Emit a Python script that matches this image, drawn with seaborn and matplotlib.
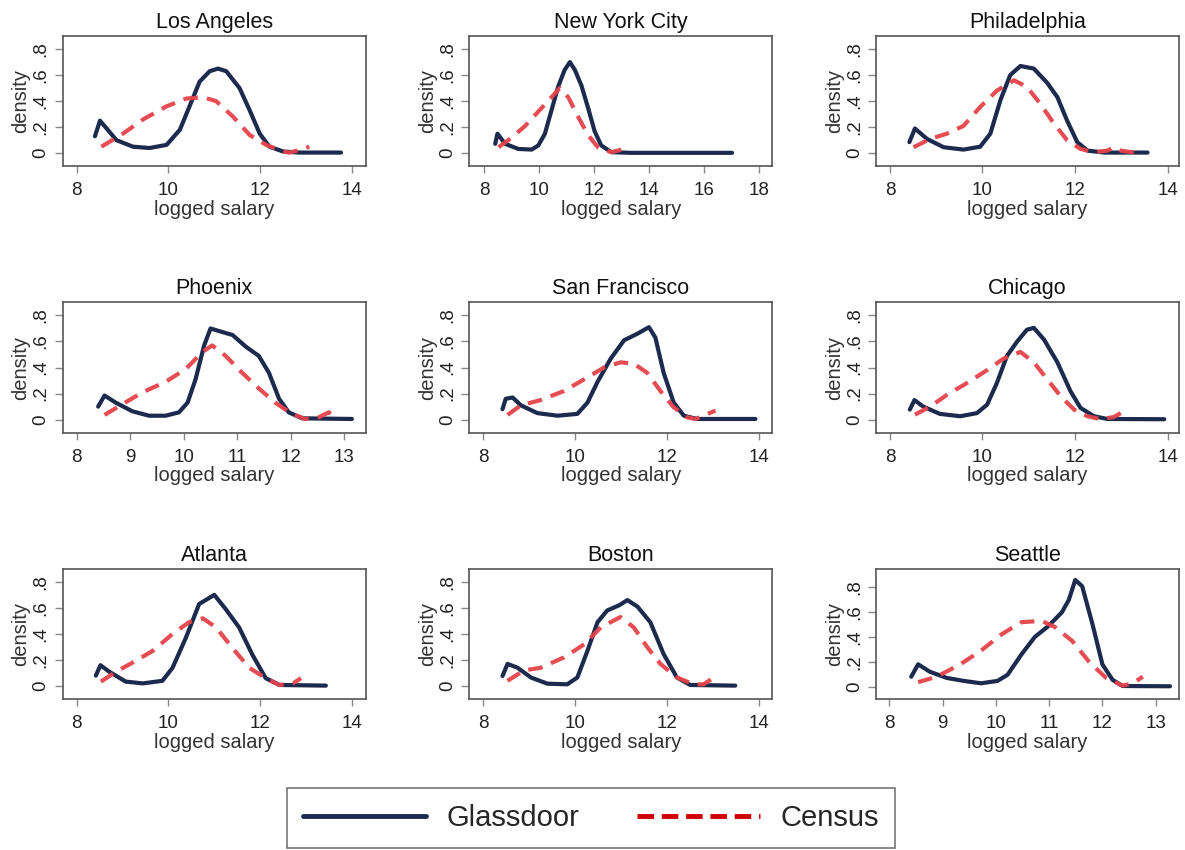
import numpy as np
import pandas as pd
import matplotlib
matplotlib.use("Agg")
import matplotlib.pyplot as plt
from matplotlib.lines import Line2D
import seaborn as sns

cities = ["Los Angeles", "New York City", "Philadelphia",
          "Phoenix", "San Francisco", "Chicago",
          "Atlanta", "Boston", "Seattle"]

xticks = {
    "Los Angeles": [8, 10, 12, 14],
    "New York City": [8, 10, 12, 14, 16, 18],
    "Philadelphia": [8, 10, 12, 14],
    "Phoenix": [8, 9, 10, 11, 12, 13],
    "San Francisco": [8, 10, 12, 14],
    "Chicago": [8, 10, 12, 14],
    "Atlanta": [8, 10, 12, 14],
    "Boston": [8, 10, 12, 14],
    "Seattle": [8, 9, 10, 11, 12, 13],
}
xlims = {
    "Los Angeles": (7.7, 14.3),
    "New York City": (7.46, 18.5),
    "Philadelphia": (7.7, 14.25),
    "Phoenix": (7.74, 13.4),
    "San Francisco": (7.7, 14.3),
    "Chicago": (7.7, 14.25),
    "Atlanta": (7.7, 14.3),
    "Boston": (7.7, 14.3),
    "Seattle": (7.75, 13.44),
}
yticks = [0, 0.2, 0.4, 0.6, 0.8]
ytick_labels = ["0", ".2", ".4", ".6", ".8"]

# Glassdoor densities (x = logged salary, y = density)
gd_la_x = [8.40, 8.51, 8.87, 9.23, 9.59, 9.96, 10.25, 10.46, 10.68, 10.90, 11.08, 11.26, 11.55, 11.77, 11.99, 12.20, 12.50, 12.86, 13.76]
gd_la_y = [0.13, 0.25, 0.10, 0.05, 0.04, 0.064, 0.18, 0.36, 0.55, 0.63, 0.65, 0.63, 0.50, 0.33, 0.15, 0.05, 0.013, 0.005, 0.005]
ce_la_x = [8.54, 9.01, 9.45, 9.96, 10.39, 10.75, 11.04, 11.41, 11.77, 12.13, 12.49, 12.64, 12.86, 13.07]
ce_la_y = [0.05, 0.15, 0.26, 0.36, 0.42, 0.43, 0.40, 0.28, 0.14, 0.064, 0.013, 0.005, 0.025, 0.05]

gd_ny_x = [8.40, 8.48, 8.76, 9.24, 9.73, 9.97, 10.21, 10.45, 10.69, 10.93, 11.12, 11.30, 11.54, 11.78, 12.02, 12.26, 12.63, 13.35, 17.03]
gd_ny_y = [0.072, 0.15, 0.072, 0.033, 0.028, 0.06, 0.15, 0.33, 0.51, 0.64, 0.70, 0.64, 0.52, 0.35, 0.17, 0.06, 0.008, 0.003, 0.003]
ce_ny_x = [8.52, 9.00, 9.49, 9.97, 10.45, 10.75, 11.06, 11.42, 11.78, 12.14, 12.63, 12.87, 13.23]
ce_ny_y = [0.046, 0.12, 0.21, 0.32, 0.43, 0.50, 0.43, 0.28, 0.14, 0.046, 0.008, 0.02, 0.046]

gd_ph_x = [8.42, 8.54, 8.80, 9.16, 9.59, 9.95, 10.17, 10.39, 10.60, 10.82, 11.11, 11.40, 11.62, 11.83, 12.05, 12.27, 12.63, 13.57]
gd_ph_y = [0.085, 0.19, 0.11, 0.046, 0.028, 0.05, 0.15, 0.41, 0.60, 0.67, 0.65, 0.54, 0.43, 0.25, 0.085, 0.02, 0.005, 0.005]
ce_ph_x = [8.51, 8.87, 9.23, 9.59, 9.95, 10.31, 10.68, 10.96, 11.25, 11.54, 11.83, 12.12, 12.41, 12.70, 12.84, 12.99, 13.28]
ce_ph_y = [0.046, 0.11, 0.15, 0.21, 0.355, 0.48, 0.56, 0.51, 0.38, 0.23, 0.10, 0.033, 0.008, 0.02, 0.046, 0.02, 0.005]

gd_px_x = [8.40, 8.52, 8.73, 9.04, 9.35, 9.66, 9.91, 10.07, 10.22, 10.38, 10.50, 10.66, 10.91, 11.16, 11.40, 11.59, 11.78, 11.96, 12.21, 13.14]
gd_px_y = [0.10, 0.185, 0.13, 0.064, 0.03, 0.03, 0.056, 0.13, 0.31, 0.57, 0.70, 0.68, 0.65, 0.56, 0.49, 0.36, 0.16, 0.056, 0.01, 0.005]
ce_px_x = [8.52, 8.86, 9.23, 9.66, 10.04, 10.35, 10.53, 10.78, 11.09, 11.40, 11.71, 12.02, 12.27, 12.52, 12.71, 12.89]
ce_px_y = [0.036, 0.12, 0.21, 0.29, 0.39, 0.52, 0.57, 0.49, 0.36, 0.24, 0.13, 0.044, 0.005, 0.018, 0.056, 0.01]

gd_sf_x = [8.42, 8.49, 8.64, 8.82, 9.18, 9.62, 10.05, 10.27, 10.49, 10.78, 11.07, 11.36, 11.61, 11.75, 11.93, 12.15, 12.37, 12.66, 13.93]
gd_sf_y = [0.08, 0.16, 0.17, 0.11, 0.05, 0.03, 0.044, 0.13, 0.29, 0.47, 0.61, 0.66, 0.71, 0.63, 0.36, 0.13, 0.03, 0.005, 0.005]
ce_sf_x = [8.53, 8.82, 9.25, 9.76, 10.20, 10.63, 10.99, 11.28, 11.57, 11.86, 12.15, 12.44, 12.62, 12.80, 13.06]
ce_sf_y = [0.036, 0.11, 0.15, 0.22, 0.31, 0.40, 0.44, 0.43, 0.36, 0.22, 0.095, 0.018, 0.005, 0.03, 0.07]

gd_ch_x = [8.43, 8.53, 8.72, 9.08, 9.52, 9.88, 10.10, 10.31, 10.53, 10.75, 10.96, 11.11, 11.33, 11.62, 11.90, 12.12, 12.41, 12.70, 13.93]
gd_ch_y = [0.077, 0.15, 0.10, 0.044, 0.026, 0.05, 0.115, 0.28, 0.49, 0.60, 0.69, 0.705, 0.615, 0.44, 0.22, 0.09, 0.026, 0.005, 0.003]
ce_ch_x = [8.54, 8.87, 9.23, 9.66, 10.10, 10.46, 10.82, 11.11, 11.40, 11.69, 11.98, 12.27, 12.56, 12.84, 12.99, 13.06]
ce_ch_y = [0.038, 0.10, 0.19, 0.28, 0.38, 0.47, 0.52, 0.44, 0.31, 0.18, 0.077, 0.026, 0.003, 0.02, 0.05, 0.03]

gd_at_x = [8.42, 8.52, 8.71, 9.07, 9.44, 9.87, 10.09, 10.38, 10.67, 11.00, 11.25, 11.54, 11.83, 12.12, 12.42, 13.43]
gd_at_y = [0.08, 0.16, 0.11, 0.034, 0.02, 0.04, 0.14, 0.37, 0.63, 0.70, 0.59, 0.45, 0.24, 0.06, 0.008, 0.003]
ce_at_x = [8.53, 8.86, 9.22, 9.66, 10.09, 10.45, 10.75, 11.04, 11.40, 11.76, 12.12, 12.42, 12.71, 12.89]
ce_at_y = [0.034, 0.11, 0.18, 0.27, 0.40, 0.49, 0.52, 0.45, 0.29, 0.14, 0.06, 0.008, 0.02, 0.06]

gd_bo_x = [8.42, 8.53, 8.75, 9.04, 9.40, 9.83, 10.05, 10.27, 10.49, 10.70, 10.96, 11.14, 11.36, 11.64, 11.93, 12.22, 12.51, 13.49]
gd_bo_y = [0.077, 0.17, 0.14, 0.065, 0.018, 0.013, 0.065, 0.27, 0.49, 0.58, 0.62, 0.66, 0.61, 0.49, 0.245, 0.065, 0.008, 0.003]
ce_bo_x = [8.53, 8.89, 9.25, 9.76, 10.20, 10.56, 10.99, 11.28, 11.57, 11.86, 12.22, 12.59, 12.80, 13.02, 13.13]
ce_bo_y = [0.04, 0.12, 0.14, 0.22, 0.32, 0.45, 0.53, 0.45, 0.30, 0.17, 0.065, 0.013, 0.013, 0.065, 0.077]

gd_se_x = [8.41, 8.54, 8.76, 9.08, 9.40, 9.72, 10.03, 10.22, 10.48, 10.73, 10.99, 11.24, 11.37, 11.49, 11.62, 11.81, 12.00, 12.19, 12.38, 13.27]
gd_se_y = [0.08, 0.18, 0.12, 0.07, 0.046, 0.027, 0.046, 0.096, 0.26, 0.40, 0.49, 0.60, 0.70, 0.86, 0.81, 0.51, 0.18, 0.055, 0.005, 0.003]
ce_se_x = [8.54, 8.89, 9.33, 9.72, 10.10, 10.48, 10.86, 11.11, 11.43, 11.75, 12.07, 12.38, 12.57, 12.76]
ce_se_y = [0.036, 0.08, 0.18, 0.29, 0.42, 0.52, 0.53, 0.48, 0.37, 0.20, 0.07, 0.008, 0.027, 0.08]

glassdoor = {
    "Los Angeles": (gd_la_x, gd_la_y), "New York City": (gd_ny_x, gd_ny_y),
    "Philadelphia": (gd_ph_x, gd_ph_y), "Phoenix": (gd_px_x, gd_px_y),
    "San Francisco": (gd_sf_x, gd_sf_y), "Chicago": (gd_ch_x, gd_ch_y),
    "Atlanta": (gd_at_x, gd_at_y), "Boston": (gd_bo_x, gd_bo_y),
    "Seattle": (gd_se_x, gd_se_y),
}
census = {
    "Los Angeles": (ce_la_x, ce_la_y), "New York City": (ce_ny_x, ce_ny_y),
    "Philadelphia": (ce_ph_x, ce_ph_y), "Phoenix": (ce_px_x, ce_px_y),
    "San Francisco": (ce_sf_x, ce_sf_y), "Chicago": (ce_ch_x, ce_ch_y),
    "Atlanta": (ce_at_x, ce_at_y), "Boston": (ce_bo_x, ce_bo_y),
    "Seattle": (ce_se_x, ce_se_y),
}

sns.set_style("ticks")
plt.rcParams["font.family"] = ["Liberation Sans", "DejaVu Sans"]

NAVY = "#1c2a4e"
RED_LINE = "#e5434a"
RED_LEG = "#d00000"
FRAME = "#555555"

fig, axes = plt.subplots(3, 3, figsize=(11.85, 8.5), dpi=100)
fig.subplots_adjust(left=0.053, right=0.995, top=0.9576, bottom=0.1776,
                    wspace=0.342, hspace=1.046)

for ax, city in zip(axes.flat, cities):
    gx, gy = glassdoor[city]
    cx, cy = census[city]
    sns.lineplot(x=gx, y=gy, ax=ax, color=NAVY, linewidth=3.0, sort=False,
                 estimator=None)
    sns.lineplot(x=cx, y=cy, ax=ax, color=RED_LINE, linewidth=3.0, sort=False,
                 estimator=None, linestyle=(0, (3.5, 2.2)), alpha=0.95)
    t = xticks[city]
    ax.set_xlim(*xlims[city])
    ymax = max(0.9, max(gy) + 0.09)
    ax.set_ylim(-0.1, ymax)
    ax.set_xticks(t)
    ax.set_xticklabels([str(v) for v in t], fontsize=13.5, color="#222222")
    ax.set_yticks(yticks)
    ax.set_yticklabels(ytick_labels, rotation=90, va="center", fontsize=13.5,
                       color="#222222")
    ax.tick_params(axis="x", length=5, width=1, color="#888888", pad=6.5)
    ax.tick_params(axis="y", length=5.5, width=1, color="#888888", pad=4)
    ax.set_xlabel("logged salary", fontsize=14.5, color="#333333", labelpad=0.5)
    ax.set_ylabel("density", fontsize=14.5, color="#333333", labelpad=1.5)
    ax.set_title(city, fontsize=15.5, color="#111111", pad=6)
    for s in ax.spines.values():
        s.set_color(FRAME)
        s.set_linewidth(1.2)

handles = [Line2D([0], [0], color=NAVY, linewidth=3.5),
           Line2D([0], [0], color=RED_LEG, linewidth=3.5, linestyle=(0, (3.4, 1.6)))]
leg = fig.legend(handles, ["Glassdoor", "Census"], loc="center",
                 bbox_to_anchor=(591 / 1185, 1 - 818 / 850), ncol=2,
                 fontsize=21, handlelength=4.2, columnspacing=2.0,
                 handletextpad=0.7, frameon=True, fancybox=False,
                 borderpad=0.55)
leg.get_frame().set_edgecolor("#555555")
leg.get_frame().set_linewidth(1.2)

fig.savefig("out.png", dpi=100)
